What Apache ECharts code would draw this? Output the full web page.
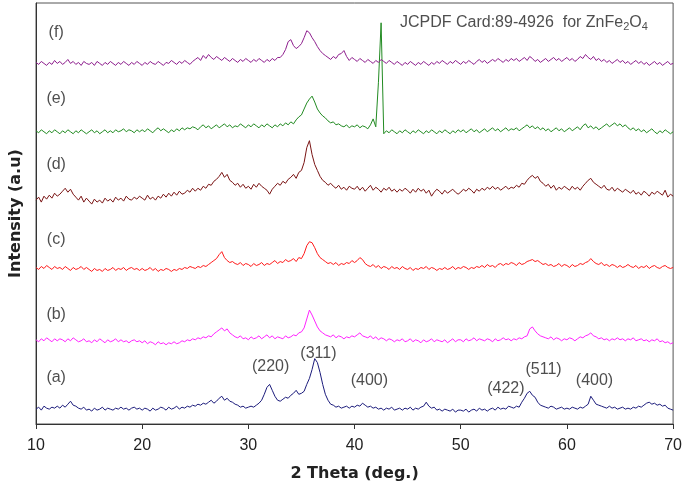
<!DOCTYPE html>
<html>
<head>
<meta charset="utf-8">
<script src="https://cdn.jsdelivr.net/npm/echarts@6/dist/echarts.min.js"></script>
<style>html,body{margin:0;padding:0;background:#fff}#c{width:685px;height:487px}</style>
</head>
<body>
<div id="c"></div>
<script>
// 2-theta grid: 10 to 70 deg, step 0.25
const thetaStart = 10, thetaStep = 0.25, nPts = 241;

const seriesA = [
15,17,14,18, 16,15,17,16, 18,16,19,17, 20,23,19,18, 16,15,17,14,
15,13,16,14, 15,17,14,16, 15,14,16,15, 17,15,16,14, 16,17,15,16,
14,16,15,13, 16,14,15,17, 16,14,17,15, 16,18,15,17, 16,18,17,19,
18,20,19,21, 20,22,24,21, 23,26,28,24, 26,23,22,20, 19,17,18,16,
17,18,17,19, 21,24,30,37, 40,34,28,24, 23,25,27,26, 29,31,34,30,
31,33,40,46, 55,66,62,52, 40,30,24,20, 19,17,18,16, 17,18,16,18,
17,19,18,21, 19,17,18,16, 17,15,16,14, 16,15,17,14, 15,16,14,16,
15,17,14,16, 15,17,18,22, 18,16,17,14, 15,13,15,14, 13,15,12,14,
14,13,15,12, 14,15,13,16, 14,15,13,15, 16,14,17,15, 16,15,18,17,
16,18,17,22, 26,31,33,29, 27,22,19,18, 17,16,18,17, 15,16,17,15,
16,15,17,16, 15,17,16,18, 20,28,24,20, 19,18,17,16, 18,16,17,15,
16,17,15,16, 15,17,16,18, 17,19,21,22, 20,21,19,20, 18,19,16,15,
14];

const seriesB = [
85,83,86,84, 87,85,83,86, 84,86,85,83, 86,84,87,85, 83,84,86,83,
84,82,85,83, 86,84,82,85, 83,84,86,83, 85,83,84,82, 84,85,83,84,
82,84,81,83, 82,80,83,81, 82,80,82,81, 83,81,82,84, 83,85,84,86,
85,87,86,88, 87,89,88,91, 93,95,97,94, 96,92,90,88, 87,89,86,87,
85,88,86,87, 89,86,88,90, 87,89,86,88, 87,86,89,87, 88,90,89,92,
93,97,106,115, 110,104,98,94, 92,90,89,88, 90,87,89,88, 86,88,87,89,
88,90,92,89, 88,87,89,86, 88,85,87,86, 84,86,85,83, 85,84,86,83,
84,86,83,85, 84,82,85,83, 84,86,83,85, 84,83,85,82, 84,86,83,85,
85,83,86,84, 85,87,84,86, 85,84,86,85, 83,86,84,85, 87,85,86,84,
86,85,87,86, 88,89,96,98, 94,91,89,88, 87,86,88,85, 87,86,84,86,
85,87,86,84, 86,88,87,89, 90,92,89,88, 86,87,85,86, 84,86,85,87,
85,86,84,86, 85,87,84,85, 86,84,85,83, 85,84,86,83, 84,82,83,81,
82];

const seriesC = [
158,156,159,157, 160,158,156,159, 157,158,156,159, 157,155,158,156, 157,159,156,158,
156,154,157,155, 156,154,157,155, 156,158,155,157, 156,158,155,157, 158,156,157,155,
157,155,156,158, 155,157,154,156, 155,157,156,154, 156,155,157,156, 158,157,159,158,
157,159,158,160, 159,161,163,165, 167,171,174,168, 165,163,164,162, 161,163,160,162,
161,159,162,160, 161,163,160,162, 161,163,165,162, 164,163,166,164, 165,167,164,168,
167,172,180,184, 183,178,172,168, 166,164,162,163, 161,163,160,162, 161,163,162,165,
163,165,168,166, 162,160,159,161, 158,160,157,159, 158,156,159,157, 158,156,159,157,
156,158,155,157, 156,158,157,159, 156,158,157,155, 157,156,158,156, 157,159,156,158,
157,159,158,156, 158,157,159,158, 160,158,161,159, 160,158,161,162, 160,162,161,163,
162,160,163,161, 162,164,165,166, 164,165,163,161, 162,160,161,159, 160,162,159,161,
160,158,161,159, 160,162,161,163, 164,167,164,162, 161,163,160,161, 159,161,160,158,
160,158,159,161, 159,158,160,157, 159,158,160,157, 159,160,158,157, 159,160,158,157,
158];

const seriesD = [
226,229,224,230, 227,231,228,233, 230,232,235,238, 234,237,232,229, 226,230,224,228,
225,222,227,224, 226,223,228,225, 227,224,229,226, 228,225,230,227, 226,229,227,230,
228,226,231,227, 229,226,230,228, 232,229,233,230, 234,231,235,232, 233,236,234,238,
235,238,236,240, 238,242,241,245, 247,250,254,249, 252,246,244,241, 243,239,242,238,
240,237,242,239, 243,240,238,236, 232,237,240,243, 241,245,243,247, 249,252,248,254,
256,264,279,286, 272,262,256,250, 246,244,241,243, 240,238,241,237, 239,236,240,238,
237,240,236,239, 235,238,241,236, 239,237,234,238, 236,239,235,237, 234,237,235,238,
236,233,237,234, 238,235,237,233, 236,230,234,237, 235,232,236,233, 235,237,234,232,
234,237,235,238, 236,233,237,235, 238,236,239,237, 240,237,239,236, 238,240,237,239,
238,241,239,243, 242,246,249,251, 248,250,245,243, 240,242,238,241, 236,239,237,240,
238,236,240,237, 239,236,240,243, 246,248,244,242, 240,238,241,237, 236,239,235,238,
236,234,237,235, 233,236,232,234, 231,235,233,230, 234,232,235,233, 231,236,229,232,
230];

const seriesE = [
296,294,297,295, 293,296,294,297, 295,293,296,294, 297,295,293,296, 294,297,295,293,
295,297,294,296, 293,295,297,294, 296,294,297,295, 296,298,295,297, 296,294,297,295,
297,295,298,296, 294,297,299,296, 298,296,294,297, 295,298,296,299, 297,299,298,300,
299,297,300,302, 299,301,298,300, 302,299,301,303, 300,302,299,301, 300,303,301,299,
302,300,303,301, 299,302,300,303, 301,299,302,300, 303,301,304,302, 305,303,307,310,
312,318,324,328, 331,325,318,314, 311,309,306,304, 305,302,303,301, 300,302,299,301,
300,302,299,301, 300,298,302,308, 300,345,405,293, 296,294,297,295, 293,296,294,297,
295,293,296,294, 297,295,293,296, 294,297,295,293, 296,294,297,295, 293,296,294,297,
295,297,294,296, 298,295,297,294, 296,298,295,297, 299,296,298,295, 297,299,296,298,
297,299,296,298, 300,302,299,301, 298,300,297,299, 296,298,295,297, 299,296,298,295,
297,299,296,298, 300,297,301,303, 299,301,298,300, 297,299,301,303, 300,302,304,301,
303,300,302,299, 297,299,296,298, 295,297,294,296, 298,295,293,296, 294,297,295,293,
295];

const seriesF = [
365,363,366,364, 362,365,363,367, 364,366,363,365, 368,364,366,363, 365,362,366,364,
363,365,362,366, 364,362,365,363, 366,364,362,365, 363,366,364,362, 365,363,366,364,
362,365,363,366, 364,363,366,364, 362,365,364,367, 365,363,366,364, 367,365,363,366,
368,370,367,372, 369,373,370,368, 371,369,367,370, 368,366,369,367, 365,368,366,369,
367,365,368,366, 369,367,365,368, 366,369,367,370, 370,373,378,386, 388,382,379,381,
384,390,397,395, 390,386,381,377, 374,372,370,368, 371,369,373,374, 377,371,367,370,
368,366,369,367, 365,368,366,364, 367,365,368,366, 364,367,365,363, 366,364,362,365,
363,366,364,362, 365,363,366,364, 362,365,363,366, 364,367,365,363, 366,364,367,365,
363,366,364,367, 365,363,366,368, 365,367,364,366, 368,366,369,367, 365,368,366,369,
367,369,366,368, 370,367,371,369, 366,368,365,367, 369,366,368,370, 367,369,366,368,
370,367,369,366, 368,371,369,373, 370,368,371,367, 369,366,368,365, 367,364,366,368,
365,367,364,366, 363,365,367,364, 366,363,365,362, 364,366,363,365, 362,364,366,363,
364];

const sampleNames = ['(a)','(b)','(c)','(d)','(e)','(f)'];
const sampleLabelY = [47, 110, 186, 262, 328, 395];
const sampleLabelX = 11.9;

const peakNames = ['(220)','(311)','(400)','(422)','(511)','(400)'];
const peakTheta = [32.1, 36.6, 41.4, 54.25, 57.8, 62.6];
const peakLabelY = [58, 71, 44, 36, 55, 44];

const xTicks = [10, 20, 30, 40, 50, 60, 70];

const colors = ['#1c1c7c', '#ff22ff', '#ff1a1a', '#7a1414', '#228b22', '#8e1f8e'];

const allSeries = [seriesA, seriesB, seriesC, seriesD, seriesE, seriesF];
const theta = Array.from({length: nPts}, (_, i) => thetaStart + i * thetaStep);

const lineSeries = allSeries.map((vals, k) => ({
  type: 'line',
  name: sampleNames[k],
  data: vals.map((v, i) => [theta[i], v]),
  showSymbol: false,
  symbol: 'none',
  lineStyle: {color: colors[k], width: 1},
  itemStyle: {color: colors[k]},
  animation: false,
  z: 2
}));

const textFont = 'Liberation Sans';
const titleFont = 'DejaVu Sans';

lineSeries.push({
  type: 'scatter',
  symbolSize: 0,
  silent: true,
  animation: false,
  data: sampleNames.map((n, k) => ({value: [sampleLabelX, sampleLabelY[k]], name: n})),
  label: {show: true, position: 'inside', formatter: p => p.name, color: '#222', fontSize: 16, fontFamily: textFont}
});
lineSeries.push({
  type: 'scatter',
  symbolSize: 0,
  silent: true,
  animation: false,
  data: peakNames.map((n, k) => ({value: [peakTheta[k], peakLabelY[k]], name: n})),
  label: {show: true, position: 'inside', formatter: p => p.name, color: '#222', fontSize: 16, fontFamily: textFont}
});
lineSeries.push({
  type: 'scatter',
  symbolSize: 0,
  silent: true,
  animation: false,
  data: [{value: [55.95, 405], name: 'JCPDF'}],
  label: {
    show: true, position: 'inside',
    formatter: 'JCPDF Card:89-4926  for ZnFe{s|2}O{s|4}',
    color: '#222', fontSize: 16, fontFamily: textFont,
    rich: {s: {fontSize: 11, fontFamily: textFont, color: '#222', padding: [8, 0, 0, 0]}}
  }
});

const chart = echarts.init(document.getElementById('c'), null, {renderer: 'canvas'});
chart.setOption({
  backgroundColor: '#fff',
  animation: false,
  grid: {left: 35, right: 10, top: 3, bottom: 59, show: true, borderColor: '#555', borderWidth: 1},
  xAxis: {
    type: 'value', min: xTicks[0], max: xTicks[xTicks.length - 1], interval: 10,
    name: '2 Theta (deg.)', nameLocation: 'middle', nameGap: 42,
    nameTextStyle: {fontSize: 16, fontWeight: 'bold', color: '#222', fontFamily: titleFont},
    axisLine: {lineStyle: {color: '#333', width: 1}},
    axisTick: {show: true, inside: false, length: 5, lineStyle: {color: '#333'}},
    axisLabel: {fontSize: 16, color: '#222', margin: 14, fontFamily: textFont},
    splitLine: {show: false}
  },
  yAxis: {
    type: 'value', min: 0, max: 425,
    name: 'Intensity (a.u)', nameLocation: 'middle', nameGap: 12,
    nameTextStyle: {fontSize: 16, fontWeight: 'bold', color: '#222', fontFamily: titleFont},
    axisLine: {show: true, lineStyle: {color: '#333', width: 1}},
    axisTick: {show: false},
    axisLabel: {show: false},
    splitLine: {show: false}
  },
  series: lineSeries
});
</script>
</body>
</html>
